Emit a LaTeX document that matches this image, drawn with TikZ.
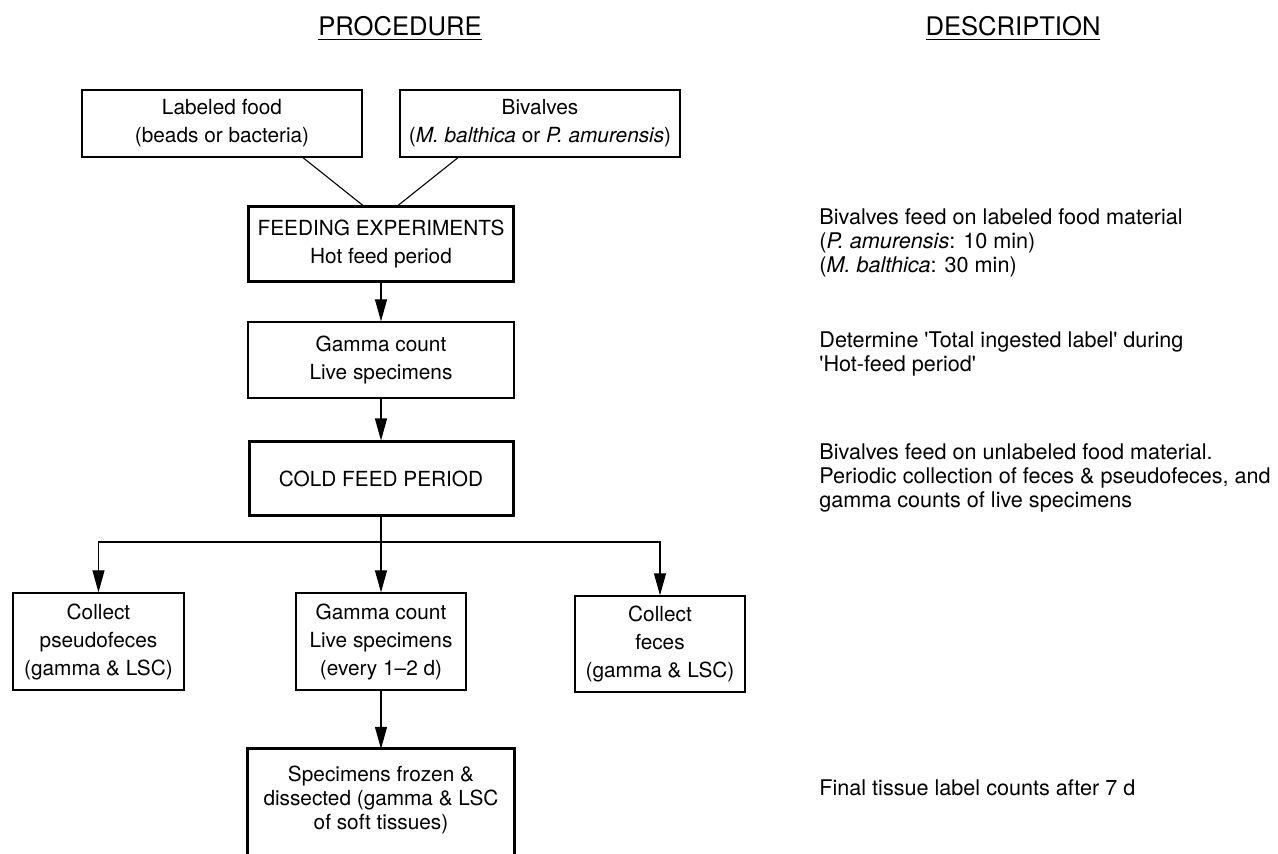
\documentclass[tikz,border=0pt]{standalone}
\usepackage{fontspec}
\setmainfont{TeX Gyre Heros}
\usetikzlibrary{arrows.meta}

\begin{document}
\begin{tikzpicture}[x=0.5pt,y=-0.5pt,
  box/.style={draw, line width=0.65pt, align=center, inner sep=0pt, font=\fontsize{10.4}{14}\selectfont},
  heavybox/.style={box, line width=1.5pt},
  link/.style={line width=0.55pt},
  flow/.style={link, -{Triangle[length=11pt,width=6pt]}},
  desc/.style={anchor=base west, align=left, inner sep=0pt, font=\fontsize{10.8}{12}\selectfont},
  head/.style={anchor=base, inner sep=0pt, font=\fontsize{12.8}{15}\selectfont}]
  \useasboundingbox (0,0) rectangle (1278,854);
  \clip (0,0) rectangle (1278,854);
  % column heads
  \node[head] (proc) at (400,36) {\underline{PROCEDURE}};
  \node[head] (descr) at (1013,36) {\underline{DESCRIPTION}};
  % inputs
  \node[box, minimum width=140pt, minimum height=33.5pt] (food) at (222,123.5) {Labeled food\\(beads or bacteria)};
  \node[box, minimum width=140pt, minimum height=33.5pt] (biv) at (540,123.5) {Bivalves\\(\textit{M. balthica} or \textit{P. amurensis})};
  % main column
  \node[heavybox, minimum width=132.5pt, minimum height=37.5pt] (feed) at (381,244.5) {FEEDING EXPERIMENTS\\Hot feed period};
  \node[box, minimum width=133pt, minimum height=38pt] (gamma) at (381,360) {Gamma count\\Live specimens};
  \node[heavybox, minimum width=132pt, minimum height=37pt] (cold) at (381,479) {COLD FEED PERIOD};
  % collections during the cold feed
  \node[box, minimum width=85.5pt, minimum height=48.5pt] (pseudo) at (98.5,641.5) {Collect\\pseudofeces\\(gamma \& LSC)};
  \node[box, minimum width=85pt, minimum height=48.5pt] (live) at (381,641.5) {Gamma count\\Live specimens\\(every 1--2 d)};
  \node[box, minimum width=85pt, minimum height=48pt] (feces) at (660,644) {Collect\\feces\\(gamma \& LSC)};
  % last box runs off the page
  \node[box, draw=none, minimum width=132.5pt, minimum height=50.5pt, font=\fontsize{10.4}{12}\selectfont] (final) at (381,800) {Specimens frozen \&\\dissected (gamma \& LSC\\of soft tissues)};
  \draw[line width=1.5pt] ([yshift=-30pt]final.south west) -- (final.north west) -- (final.north east) -- ([yshift=-30pt]final.south east);
  % connectors
  \draw[link] ([xshift=40.5pt]food.south) -- ([xshift=-9pt]feed.north);
  \draw[link] ([xshift=-41pt]biv.south) -- ([xshift=8.5pt]feed.north);
  \draw[flow] (feed) -- (gamma);
  \draw[flow] (gamma) -- (cold);
  \coordinate (split) at (381,542);
  \draw[link] (cold) -- (split);
  \draw[flow] (split) -| (pseudo);
  \draw[flow] (split) -- (live);
  \draw[flow] (split) -| (feces);
  \draw[flow] (live) -- (final);
  % descriptions (base = last line)
  \node[desc] (dfeed) at (819,273) {Bivalves feed on labeled food material\\(\textit{P. amurensis}: 10 min)\\(\textit{M. balthica}: 30 min)};
  \node[desc] (dgamma) at (819,372) {Determine \textquotesingle Total ingested label\textquotesingle{} during\\\textquotesingle Hot-feed period\textquotesingle};
  \node[desc] (dcold) at (819,508) {Bivalves feed on unlabeled food material.\\Periodic collection of feces \& pseudofeces, and\\gamma counts of live specimens};
  \node[desc] (dfinal) at (819,795) {Final tissue label counts after 7 d};
\end{tikzpicture}
\end{document}
